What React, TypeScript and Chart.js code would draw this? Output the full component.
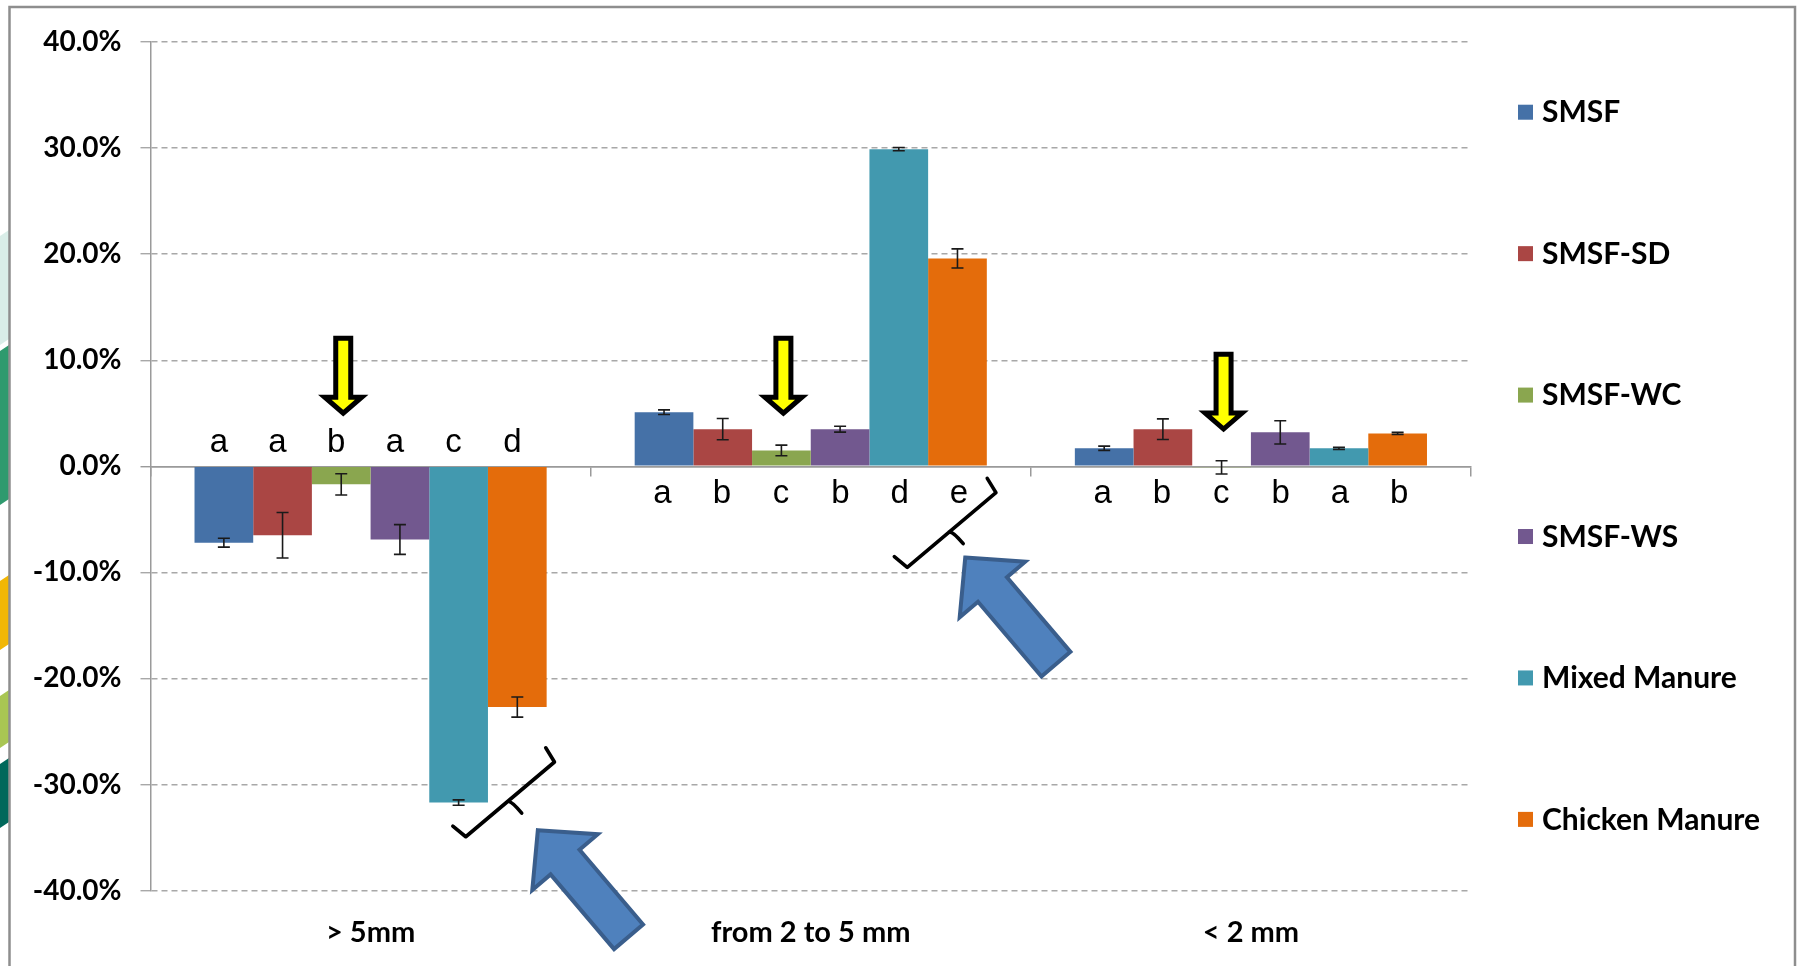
import React, { useEffect, useRef } from 'react';
import { Chart, registerables } from 'chart.js';

Chart.register(...registerables);

// ---------- data ----------
const categories = ['> 5mm', 'from 2 to 5 mm', '< 2 mm'];
const seriesNames = ['SMSF', 'SMSF-SD', 'SMSF-WC', 'SMSF-WS', 'Mixed Manure', 'Chicken Manure'];
const seriesColors = ['#4571A7', '#AA4644', '#8AA64F', '#72588F', '#4299AF', '#E46C0B'];

const smsfValues = [-7.2, 5.1, 1.7];
const smsfSdValues = [-6.5, 3.5, 3.5];
const smsfWcValues = [-1.7, 1.5, -0.1];
const smsfWsValues = [-6.9, 3.5, 3.2];
const mixedManureValues = [-31.7, 29.9, 1.7];
const chickenManureValues = [-22.7, 19.6, 3.1];

const smsfErrors = [0.42, 0.22, 0.2];
const smsfSdErrors = [2.15, 1.0, 0.97];
const smsfWcErrors = [1.0, 0.5, 0.62];
const smsfWsErrors = [1.4, 0.28, 1.1];
const mixedManureErrors = [0.25, 0.15, 0.1];
const chickenManureErrors = [0.95, 0.9, 0.1];

const yTickValues = [-40, -30, -20, -10, 0, 10, 20, 30, 40];

// significance letters per category (one per series)
const lettersGt5mm = ['a', 'a', 'b', 'a', 'c', 'd'];
const letters2to5mm = ['a', 'b', 'c', 'b', 'd', 'e'];
const lettersLt2mm = ['a', 'b', 'c', 'b', 'a', 'b'];
const lettersAboveZero = [true, false, false];

// annotation anchors (data space: category position, value in %)
const yellowArrowTipValues = [4.7, 4.7, 3.2];
const yellowArrowTopValues = [12.3, 12.3, 10.8];
const braceCenterX = [0.317, 1.32];
const braceCenterY = [-31.4, -6.0];
const blueArrowTipX = [0.38, 1.351];
const blueArrowTipY = [-34.3, -8.6];

const seriesValues = [smsfValues, smsfSdValues, smsfWcValues, smsfWsValues, mixedManureValues, chickenManureValues];
const seriesErrors = [smsfErrors, smsfSdErrors, smsfWcErrors, smsfWsErrors, mixedManureErrors, chickenManureErrors];
const letterSets = [lettersGt5mm, letters2to5mm, lettersLt2mm];

const overlayPlugin = {
  id: 'overlay',
  beforeDraw(chart: any) {
    const ctx = chart.ctx;
    ctx.save();
    // slide decoration at far left
    const bands = [
      { y0: 230, y1: 345, c: 'rgba(170,215,205,0.45)' },
      { y0: 345, y1: 505, c: '#2F9A6E' },
      { y0: 575, y1: 650, c: '#F2B705' },
      { y0: 690, y1: 748, c: '#A9C653' },
      { y0: 758, y1: 828, c: '#00685B' },
    ];
    bands.forEach((b) => {
      ctx.fillStyle = b.c;
      ctx.beginPath();
      ctx.moveTo(0, b.y0 + 6);
      ctx.lineTo(9, b.y0);
      ctx.lineTo(9, b.y1 - 6);
      ctx.lineTo(0, b.y1);
      ctx.closePath();
      ctx.fill();
    });
    // frame
    ctx.strokeStyle = '#8E8E8E';
    ctx.lineWidth = 2.5;
    ctx.strokeRect(9.5, 7, 1785.5, 1000);
    ctx.restore();
  },
  afterDatasetsDraw(chart: any) {
    const ctx = chart.ctx;
    const ys = chart.scales.y;
    const xs = chart.scales.x;
    ctx.save();
    // error bars
    ctx.strokeStyle = '#1A1A1A';
    ctx.lineWidth = 1.6;
    seriesValues.forEach((vals, di) => {
      const meta = chart.getDatasetMeta(di);
      meta.data.forEach((el: any, j: number) => {
        const v = vals[j];
        const e = seriesErrors[di][j];
        const yt = ys.getPixelForValue(v + e);
        const yb = ys.getPixelForValue(v - e);
        const cx = el.x;
        ctx.beginPath();
        ctx.moveTo(cx, yt);
        ctx.lineTo(cx, yb);
        ctx.moveTo(cx - 6, yt);
        ctx.lineTo(cx + 6, yt);
        ctx.moveTo(cx - 6, yb);
        ctx.lineTo(cx + 6, yb);
        ctx.stroke();
      });
    });
    // letters
    const zeroY = ys.getPixelForValue(0);
    ctx.fillStyle = '#000';
    ctx.font = '33px "Liberation Sans", Arial, sans-serif';
    ctx.textAlign = 'center';
    ctx.textBaseline = 'alphabetic';
    letterSets.forEach((letters, ci) => {
      letters.forEach((l, di) => {
        const el = chart.getDatasetMeta(di).data[ci];
        const above = lettersAboveZero[ci];
        const y = above ? zeroY - 14 : zeroY + 37;
        const dx = above ? -5 : 1.5 * (di - 2.5) / 2.5;
        ctx.fillText(l, el.x + dx, y);
      });
    });
    // yellow arrows above SMSF-WC bars
    yellowArrowTipValues.forEach((tipV, ci) => {
      const el = chart.getDatasetMeta(2).data[ci];
      const cx = el.x + 2;
      const yTip = ys.getPixelForValue(tipV) - 3.3;
      const yTop = ys.getPixelForValue(yellowArrowTopValues[ci]) + 2.5;
      const headY = yTip - 16;
      ctx.beginPath();
      ctx.moveTo(cx - 7.5, yTop);
      ctx.lineTo(cx + 7.5, yTop);
      ctx.lineTo(cx + 7.5, headY);
      ctx.lineTo(cx + 18.5, headY);
      ctx.lineTo(cx, yTip);
      ctx.lineTo(cx - 18.5, headY);
      ctx.lineTo(cx - 7.5, headY);
      ctx.closePath();
      ctx.fillStyle = '#FFFF00';
      ctx.fill();
      ctx.lineJoin = 'miter';
      ctx.lineWidth = 5;
      ctx.strokeStyle = '#000';
      ctx.stroke();
    });
    // braces
    braceCenterX.forEach((bx, k) => {
      const px = xs.getPixelForValue(bx);
      const py = ys.getPixelForValue(braceCenterY[k]);
      ctx.save();
      ctx.translate(px, py);
      ctx.rotate(Math.atan2(-75, 89));
      ctx.strokeStyle = '#000';
      ctx.lineWidth = 3.6;
      ctx.lineJoin = 'round';
      ctx.lineCap = 'round';
      ctx.beginPath();
      ctx.moveTo(-61, -16.5);
      ctx.lineTo(-58, 0);
      ctx.lineTo(58, 0);
      ctx.lineTo(60.5, -16.5);
      ctx.moveTo(-3, 0);
      ctx.quadraticCurveTo(0, 2, 0, 18);
      ctx.stroke();
      ctx.restore();
    });
    // blue arrows
    blueArrowTipX.forEach((bx, k) => {
      const px = xs.getPixelForValue(bx);
      const py = ys.getPixelForValue(blueArrowTipY[k]);
      ctx.save();
      ctx.translate(px, py);
      ctx.rotate(Math.atan2(107, 91));
      ctx.beginPath();
      ctx.moveTo(0, 0);
      ctx.lineTo(42, -43);
      ctx.lineTo(42, -19);
      ctx.lineTo(140, -19);
      ctx.lineTo(140, 19);
      ctx.lineTo(42, 19);
      ctx.lineTo(42, 43);
      ctx.closePath();
      ctx.fillStyle = '#4F81BD';
      ctx.fill();
      ctx.lineJoin = 'miter';
      ctx.lineWidth = 4;
      ctx.strokeStyle = '#3A5E8C';
      ctx.stroke();
      ctx.restore();
    });
    ctx.restore();
  },
  afterDraw(chart: any) {
    const ctx = chart.ctx;
    const area = chart.chartArea;
    const slot = (area.bottom - area.top) / seriesNames.length;
    ctx.save();
    ctx.font = 'bold 30px Lato, "Open Sans", sans-serif';
    ctx.textAlign = 'left';
    ctx.textBaseline = 'middle';
    seriesNames.forEach((name, i) => {
      const cy = area.top + (i + 0.5) * slot;
      ctx.fillStyle = seriesColors[i];
      ctx.fillRect(1518, cy - 8, 15, 15);
      ctx.fillStyle = '#000';
      ctx.fillText(name, 1542, cy);
    });
    ctx.restore();
  },
};

export default function App() {
  const ref = useRef<HTMLCanvasElement>(null);
  useEffect(() => {
    const canvas = ref.current;
    if (!canvas) return;
    const chart = new Chart(canvas, {
      type: 'bar',
      data: {
        labels: categories,
        datasets: seriesNames.map((name, i) => ({
          label: name,
          data: seriesValues[i],
          backgroundColor: seriesColors[i],
          borderWidth: 0,
          categoryPercentage: 0.8,
          barPercentage: 1.0,
          xAxisID: 'x',
          yAxisID: 'y',
        })),
      },
      options: {
        responsive: false,
        animation: false,
        devicePixelRatio: 1,
        layout: { padding: { left: 0, top: 42, right: 331, bottom: 0 } },
        plugins: { legend: { display: false }, tooltip: { enabled: false } },
        scales: {
          x: {
            type: 'category',
            position: { y: 0 } as any,
            offset: true,
            grid: {
              display: true,
              offset: true,
              drawOnChartArea: false,
              drawTicks: true,
              tickLength: 9,
              color: '#9A9A9A',
              lineWidth: 1.5,
            },
            border: { display: true, color: '#9A9A9A', width: 1.5 },
            ticks: { display: false },
          },
          x2: {
            type: 'category',
            labels: categories,
            position: 'bottom',
            offset: true,
            grid: { display: false },
            border: { display: false },
            ticks: {
              color: '#000',
              font: { family: 'Lato', weight: 'bold', size: 29 },
              padding: 17,
              maxRotation: 0,
              autoSkip: false,
            },
            afterFit: (s: any) => {
              s.height = 75.4;
            },
          },
          y: {
            min: -40,
            max: 40,
            afterBuildTicks: (s: any) => {
              s.ticks = yTickValues.map((v) => ({ value: v }));
            },
            ticks: {
              color: '#000',
              font: { family: 'Lato', weight: 'bold', size: 28 },
              padding: 19,
              callback: (v: any) => Number(v).toFixed(1) + '%',
            },
            grid: {
              color: (c: any) => (c.tick && c.tick.value === 0 ? '#9A9A9A' : '#A8A8A8'),
              lineWidth: 1.4,
              drawTicks: true,
              tickLength: 10,
            },
            border: {
              display: true,
              color: '#9A9A9A',
              width: 1.5,
              dash: (c: any) => (c.tick && c.tick.value === 0 ? [] : [6, 4]),
            } as any,
            afterFit: (s: any) => {
              s.width = 150.5;
            },
          },
        },
      },
      plugins: [overlayPlugin],
    } as any);
    return () => chart.destroy();
  }, []);
  return (
    <div style={{ position: 'fixed', left: 0, top: 0, width: 1802, height: 966, background: '#fff' }}>
      <canvas ref={ref} width={1802} height={966} style={{ display: 'block', width: 1802, height: 966 }} />
    </div>
  );
}
